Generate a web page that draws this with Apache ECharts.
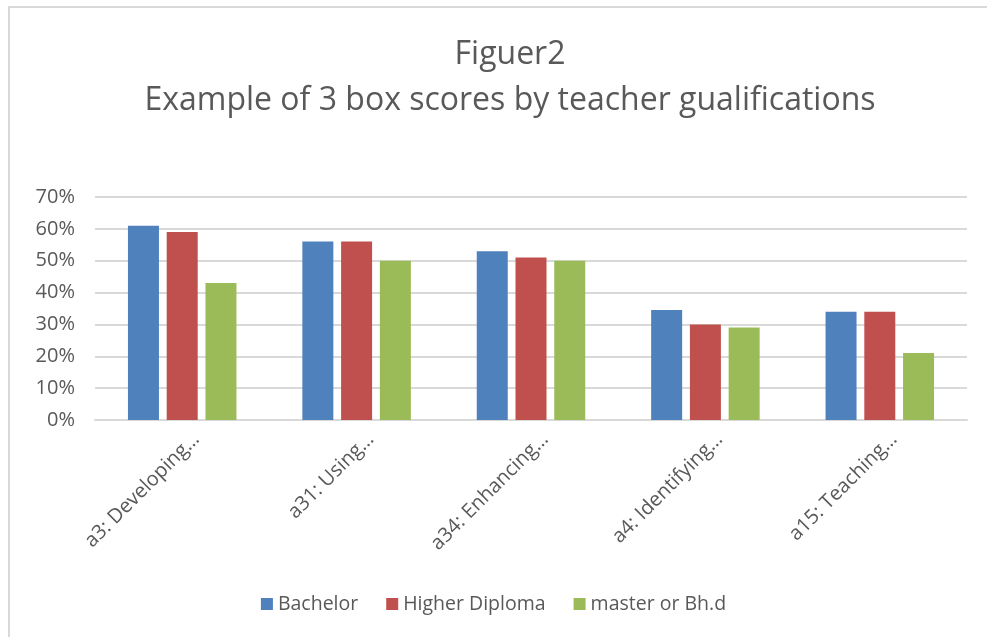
<!DOCTYPE html>
<html><head><meta charset="utf-8">
<script src="https://cdn.jsdelivr.net/npm/echarts@6/dist/echarts.min.js"></script>
<style>html,body{margin:0;padding:0;background:#fff}#c{width:987px;height:637px}</style>
</head><body><div id="c"></div>
<script>
const categories = ["a3: Developing…", "a31: Using…", "a34: Enhancing…", "a4: Identifying…", "a15: Teaching…"];
const bachelor = [0.61, 0.56, 0.53, 0.345, 0.34];
const higherDiploma = [0.59, 0.56, 0.51, 0.30, 0.34];
const masterOrPhd = [0.43, 0.50, 0.50, 0.29, 0.21];
const seriesNames = ["Bachelor", "Higher Diploma", "master or Bh.d"];
const titleLines = ["Figuer2", "Example of 3 box scores by teacher gualifications"];

const font = "Open Sans";
const chart = echarts.init(document.getElementById('c'), null, {renderer:'canvas'});
const colors = ['#4f81bd', '#c0504d', '#9bbb59'];
const mk = (name, data, i) => ({
  name, type: 'bar', data, barWidth: 31, barGap: '25%',
  itemStyle: {color: colors[i]}
});
chart.setOption({
  animation: false,
  textStyle: {fontFamily: font},
  graphic: [{type:'rect', shape:{x:9, y:7, width:1000, height:1000}, style:{fill:'none', stroke:'#d9d9d9', lineWidth:2}}],
  title: [
    {text: titleLines[0], left: 505, textAlign: 'center', top: 34, textStyle:{fontFamily:font, fontSize:32, fontWeight:'normal', color:'#595959'}},
    {text: titleLines[1], left: 505, textAlign: 'center', top: 80, textStyle:{fontFamily:font, fontSize:32, fontWeight:'normal', color:'#595959'}}
  ],
  legend: {
    data: seriesNames, top: 589, left: 'center', itemWidth: 12, itemHeight: 12, itemGap: 28,
    icon: 'rect', textStyle: {fontFamily: font, fontSize: 19.5, color:'#595959'}
  },
  grid: {left: 95, right: 20, top: 197, bottom: 217, containLabel: false, outerBoundsMode: 'none'},
  xAxis: {
    type: 'category', data: categories,
    axisLine: {lineStyle:{color:'#d9d9d9', width:2}},
    axisTick: {show:false},
    axisLabel: {rotate: 45, fontSize: 20, color:'#595959', fontFamily: font, margin: 2, interval: 0,
      verticalAlign: 'top', padding: [10, 0, 0, 0], overflow: 'none', width: 400, hideOverlap: false}
  },
  yAxis: {
    type: 'value', min: 0, max: 0.7, interval: 0.1,
    axisLine: {show:false}, axisTick:{show:false},
    splitLine: {lineStyle:{color:'#d9d9d9', width:2}},
    axisLabel: {formatter: v => Math.round(v*100) + '%', fontSize: 20, color:'#595959', fontFamily: font, margin: 20}
  },
  series: [mk(seriesNames[0], bachelor, 0), mk(seriesNames[1], higherDiploma, 1), mk(seriesNames[2], masterOrPhd, 2)]
});
</script></body></html>
